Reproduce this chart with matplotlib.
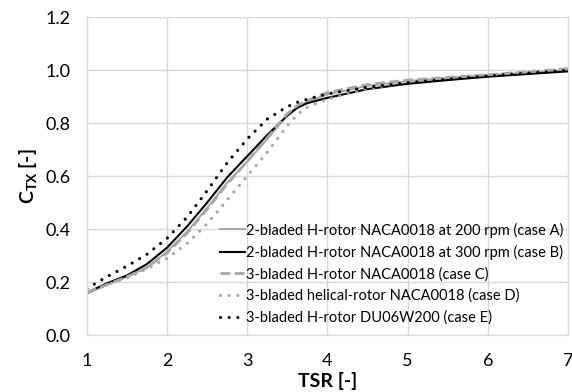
import matplotlib
matplotlib.use("Agg")
import matplotlib.pyplot as plt

plt.rcParams['font.family'] = ['Lato', 'DejaVu Sans']
plt.rcParams['mathtext.fontset'] = 'custom'
plt.rcParams['mathtext.rm'] = 'Lato:bold'
plt.rcParams['mathtext.bf'] = 'Lato:bold'

tsr = [1, 1.25, 1.5, 1.75, 2, 2.25, 2.5, 2.75, 3, 3.25, 3.5, 3.625, 3.75, 4, 4.5, 5, 5.5, 6, 6.5, 7]
case_a = [0.155, 0.19, 0.22, 0.255, 0.315, 0.39, 0.48, 0.575, 0.655, 0.74, 0.83, 0.86, 0.88, 0.908, 0.94, 0.958, 0.97, 0.98, 0.99, 1.0]
case_b = [0.16, 0.195, 0.225, 0.268, 0.33, 0.41, 0.50, 0.595, 0.675, 0.755, 0.828, 0.858, 0.875, 0.895, 0.928, 0.948, 0.962, 0.975, 0.985, 0.995]
case_c = [0.16, 0.19, 0.22, 0.255, 0.31, 0.385, 0.475, 0.57, 0.655, 0.745, 0.835, 0.866, 0.885, 0.915, 0.945, 0.962, 0.972, 0.982, 0.993, 1.005]
case_d = [0.16, 0.19, 0.215, 0.25, 0.29, 0.345, 0.42, 0.51, 0.60, 0.69, 0.79, 0.832, 0.86, 0.89, 0.93, 0.953, 0.968, 0.98, 0.992, 1.003]
case_e = [0.175, 0.22, 0.26, 0.305, 0.365, 0.445, 0.545, 0.65, 0.74, 0.815, 0.862, 0.878, 0.89, 0.91, 0.935, 0.952, 0.965, 0.977, 0.988, 0.998]

labels = ['2-bladed H-rotor NACA0018 at 200 rpm (case A)',
          '2-bladed H-rotor NACA0018 at 300 rpm (case B)',
          '3-bladed H-rotor NACA0018 (case C)',
          '3-bladed helical-rotor NACA0018 (case D)',
          '3-bladed H-rotor DU06W200 (case E)']
xticks = [1, 2, 3, 4, 5, 6, 7]
yticks = [0.0, 0.2, 0.4, 0.6, 0.8, 1.0, 1.2]

gray = '#A6A6A6'
fig = plt.figure(figsize=(5.72, 3.92), dpi=100)
ax = fig.add_axes([0.152, 0.1454, 0.841, 0.8112])

ax.plot(tsr, case_a, color=gray, lw=1.5, label=labels[0])
ax.plot(tsr, case_b, color='black', lw=1.5, label=labels[1])
ax.plot(tsr, case_c, color=gray, lw=2.0, linestyle=(0, (3.5, 1.6)), label=labels[2])
ax.plot(tsr, case_d, color=gray, lw=2.3, linestyle=(0, (0.01, 2.7)),
        dash_capstyle='round', label=labels[3])
ax.plot(tsr, case_e, color='black', lw=2.3, linestyle=(0, (0.01, 2.7)),
        dash_capstyle='round', label=labels[4])

ax.set_xlim(1, 7)
ax.set_ylim(0, 1.2)
ax.set_xticks(xticks)
ax.set_yticks(yticks)
ax.set_yticklabels([f'{v:.1f}' for v in yticks])
ax.tick_params(length=0, labelsize=13)
ax.tick_params(axis='x', pad=13)
ax.tick_params(axis='y', pad=12)
ax.grid(True, color='#D9D9D9', lw=1)
for s in ax.spines.values():
    s.set_color('#D9D9D9')
ax.set_axisbelow(True)

ax.set_xlabel('TSR [-]', fontsize=14, fontweight='bold', labelpad=2)
ax.set_ylabel(r'C$_{\mathrm{TX}}$ [-]', fontsize=14, fontweight='bold', labelpad=4)

leg = ax.legend(loc='lower right', bbox_to_anchor=(1.012, 0.0), frameon=False,
                fontsize=10.5, handlelength=1.7, handletextpad=0.1,
                labelspacing=0.5, borderaxespad=0.3)

fig.savefig('out.png', dpi=100)
